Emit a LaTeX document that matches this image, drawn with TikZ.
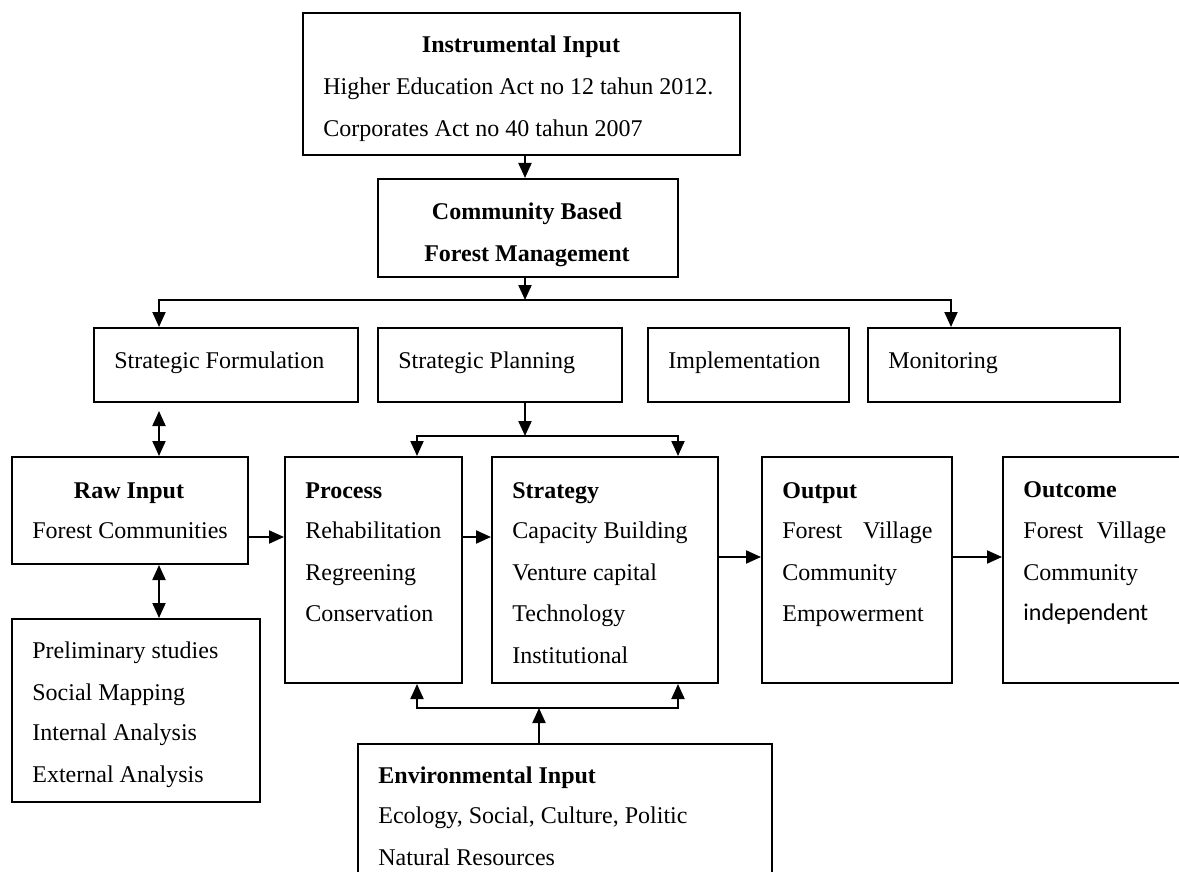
\documentclass[tikz,border=0pt]{standalone}
\usepackage{fontspec}
\setmainfont{Liberation Serif}
\newfontfamily\calibri{Carlito}
\usepackage{tikz}
\usetikzlibrary{arrows.meta}

\begin{document}
\begin{tikzpicture}[x=0.5pt,y=-0.5pt,font=\fontsize{12pt}{14pt}\selectfont,
    box/.style={draw,line width=1pt,inner sep=0pt,anchor=north west},
    txt/.style={anchor=base west,inner sep=0pt},
    hd/.style={txt,font=\fontsize{12pt}{14pt}\selectfont\bfseries},
    arr/.style={line width=1pt,-{Triangle[length=7.5pt,width=6.5pt]}},
    dbl/.style={line width=1pt,{Triangle[length=7.5pt,width=6.5pt]}-{Triangle[length=7.5pt,width=6.5pt]}}]
        \useasboundingbox (0,0) rectangle (1179,872);
        \node[box,minimum width=218.5pt,minimum height=71pt] (instr) at (302,12) {};
        \node[hd,anchor=base] (instr-h) at (521,53) {Instrumental Input};
        \node[txt] (instr-a) at (323,95) {Higher Education Act no 12 tahun 2012.};
        \node[txt] (instr-b) at (323,137) {Corporates Act no 40 tahun 2007};
        \node[box,minimum width=150pt,minimum height=49pt] (cbfm) at (377,178) {};
        \node[hd,anchor=base] (cbfm-a) at (527,220) {Community Based};
        \node[hd,anchor=base] (cbfm-b) at (527,262) {Forest Management};
        \node[box,minimum width=132pt,minimum height=37pt] (sf) at (93,327) {};
        \node[txt] (sf-t) at (114,368) {Strategic Formulation};
        \node[box,minimum width=122pt,minimum height=37pt] (sp) at (377,327) {};
        \node[txt] (sp-t) at (398,368) {Strategic Planning};
        \node[box,minimum width=100.5pt,minimum height=37pt] (impl) at (647,327) {};
        \node[txt] (impl-t) at (668,368) {Implementation};
        \node[box,minimum width=126pt,minimum height=37pt] (mon) at (867,327) {};
        \node[txt] (mon-t) at (888,368) {Monitoring};
        \node[box,minimum width=118pt,minimum height=53.5pt] (raw) at (11,456) {};
        \node[hd,anchor=base] (raw-h) at (129,498) {Raw Input};
        \node[txt] (raw-a) at (32,538) {Forest Communities};
        \node[box,minimum width=88.5pt,minimum height=113pt] (proc) at (284,456) {};
        \node[hd] (proc-h) at (305,498) {Process};
        \node[txt] (proc-a) at (305,538) {Rehabilitation};
        \node[txt] (proc-b) at (305,580) {Regreening};
        \node[txt] (proc-c) at (305,621) {Conservation};
        \node[box,minimum width=113pt,minimum height=113pt] (strat) at (491,456) {};
        \node[hd] (strat-h) at (512,498) {Strategy};
        \node[txt] (strat-a) at (512,538) {Capacity Building};
        \node[txt] (strat-b) at (512,580) {Venture capital};
        \node[txt] (strat-c) at (512,621) {Technology};
        \node[txt] (strat-d) at (512,663) {Institutional};
        \node[box,minimum width=95pt,minimum height=113pt] (out) at (761,456) {};
        \node[hd] (out-h) at (782,498) {Output};
        \node[txt] (out-a) at (782,538) {\makebox[75pt][s]{Forest Village}};
        \node[txt] (out-b) at (782,580) {Community};
        \node[txt] (out-c) at (782,621) {Empowerment};
        \node[box,minimum width=90pt,minimum height=113pt] (outc) at (1002,456) {};
        \node[hd] (outc-h) at (1023,497) {Outcome};
        \node[txt] (outc-a) at (1023,538) {\makebox[71.4pt][s]{Forest Village}};
        \node[txt] (outc-b) at (1023,580) {Community};
        \node[txt] (outc-c) at (1023,620) {\calibri independent};
        \node[box,minimum width=124pt,minimum height=91.5pt] (prelim) at (11,618) {};
        \node[txt] (prelim-a) at (32,658) {Preliminary studies};
        \node[txt] (prelim-b) at (32,700) {Social Mapping};
        \node[txt] (prelim-c) at (32,740) {Internal Analysis};
        \node[txt] (prelim-d) at (32,782) {External Analysis};
        \node[box,minimum width=207pt,minimum height=70pt] (env) at (357,743) {};
        \node[hd] (env-h) at (378,783) {Environmental Input};
        \node[txt] (env-a) at (378,823) {Ecology, Social, Culture, Politic};
        \node[txt] (env-b) at (378,865) {Natural Resources};
        \coordinate (axis) at (525,0);
        \coordinate (hub) at (525,300);
        \coordinate (lane) at (159,0);
        \coordinate (monx) at (951,0);
        \coordinate (fork) at (525,436);
        \coordinate (px) at (417,0);
        \coordinate (sx) at (678,0);
        \coordinate (join) at (539,708);
        \coordinate (row1) at (0,537);
        \coordinate (row2) at (0,557);
        \draw[arr] (instr.south -| axis) -- (cbfm.north -| axis);
        \draw[arr] (cbfm.south -| axis) -- (hub);
        \draw[arr] (hub) -| (lane |- sf.north);
        \draw[arr] (hub) -| (monx |- mon.north);
        \draw[dbl,shorten >=4pt] (lane |- raw.north) -- (lane |- sf.south);
        \draw[dbl] (lane |- raw.south) -- (lane |- prelim.north);
        \draw[arr] (sp.south -| axis) -- (fork);
        \draw[arr] (fork) -| (px |- proc.north);
        \draw[arr] (fork) -| (sx |- strat.north);
        \draw[arr] (raw.east |- row1) -- (proc.west |- row1);
        \draw[arr] (proc.east |- row1) -- (strat.west |- row1);
        \draw[arr] (strat.east |- row2) -- (out.west |- row2);
        \draw[arr] (out.east |- row2) -- (outc.west |- row2);
        \draw[arr] (env.north -| join) -- (join);
        \draw[arr] (join) -| (px |- proc.south);
        \draw[arr] (join) -| (sx |- strat.south);
      \end{tikzpicture}
\end{document}
